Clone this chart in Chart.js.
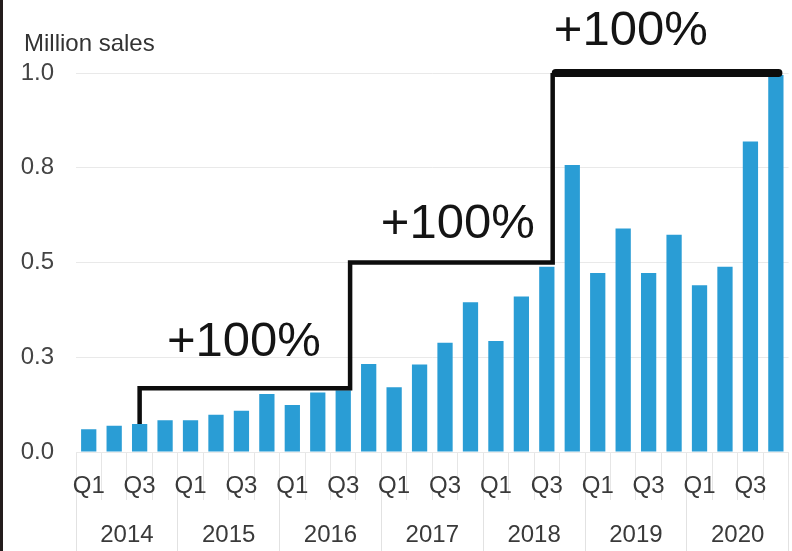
<!DOCTYPE html>
<html>
<head>
<meta charset="utf-8">
<script src="https://cdn.jsdelivr.net/npm/chart.js@4/dist/chart.umd.min.js"></script>
<style>
  html, body { margin: 0; padding: 0; background: #fff; }
  #wrap { width: 792px; height: 551px; position: relative; }
</style>
</head>
<body>
<div id="wrap"><canvas id="c" width="792" height="551"></canvas></div>
<script>
// Quarterly sales, in million units
const years = ['2014', '2015', '2016', '2017', '2018', '2019', '2020'];
const quarters = ['Q1', 'Q2', 'Q3', 'Q4'];
const quarterLabels = ['Q1', '', 'Q3', ''];
const sales = [
  0.060, 0.069, 0.074, 0.084,   // 2014
  0.084, 0.098, 0.109, 0.153,   // 2015
  0.124, 0.157, 0.163, 0.232,   // 2016
  0.171, 0.231, 0.288, 0.395,   // 2017
  0.293, 0.410, 0.489, 0.757,   // 2018
  0.472, 0.590, 0.472, 0.573,   // 2019
  0.440, 0.489, 0.819, 0.995    // 2020
];
const yTicks = [0, 0.25, 0.5, 0.75, 1.0];
const unitLabel = 'Million sales';
// Levels of the three doubling steps
const stepLevels = [0.168, 0.5, 1.0];
const stepTexts = ['+100%', '+100%', '+100%'];

const categories = [];
years.forEach(y => quarters.forEach(q => categories.push(y + ' ' + q)));

const FONT = '"Liberation Sans", Arial, Helvetica, sans-serif';

// Step line, "+100%" callouts and the unit caption, placed through the chart scales
const stepPlugin = {
  id: 'steps',
  beforeDraw(chart) {
    const ctx = chart.ctx;
    ctx.save();
    ctx.fillStyle = '#fff';
    ctx.fillRect(0, 0, chart.width, chart.height);
    ctx.restore();
  },
  afterDatasetsDraw(chart, args, opts) {
    const xs = chart.scales.x, ys = chart.scales.y, ctx = chart.ctx;
    const X = v => xs.getPixelForValue(v);
    const Y = v => ys.getPixelForValue(v);
    const [c0, c1, c2] = opts.corners;
    ctx.save();
    ctx.strokeStyle = '#0d0d0d';
    ctx.lineWidth = 4.5;
    ctx.lineJoin = 'miter';
    ctx.lineCap = 'butt';
    ctx.beginPath();
    ctx.moveTo(X(c0), Y(sales[c0]));
    ctx.lineTo(X(c0), Y(stepLevels[0]));
    ctx.lineTo(X(c1), Y(stepLevels[0]));
    ctx.lineTo(X(c1), Y(stepLevels[1]));
    ctx.lineTo(X(c2), Y(stepLevels[1]));
    ctx.lineTo(X(c2), Y(stepLevels[2]));
    ctx.stroke();
    // final level drawn heavier
    ctx.lineWidth = 8;
    ctx.lineCap = 'round';
    ctx.beginPath();
    ctx.moveTo(X(opts.topStart), Y(stepLevels[2]));
    ctx.lineTo(X(opts.topEnd), Y(stepLevels[2]));
    ctx.stroke();
    // callouts
    ctx.fillStyle = '#141414';
    ctx.font = '49px ' + FONT;
    ctx.textAlign = 'center';
    ctx.textBaseline = 'middle';
    opts.labelAt.forEach((p, i) => {
      ctx.fillText(stepTexts[i], X(p[0]), Y(p[1]));
    });
    ctx.restore();
  },
  afterDraw(chart, args, opts) {
    const ctx = chart.ctx;
    ctx.save();
    // unit caption above the value axis
    ctx.fillStyle = '#333';
    ctx.font = '24px ' + FONT;
    ctx.textAlign = 'left';
    ctx.textBaseline = 'middle';
    ctx.fillText(unitLabel, opts.captionX, chart.chartArea.top - opts.captionRise);
    // frame edge on the left
    ctx.fillStyle = '#231d1d';
    ctx.fillRect(0, 0, 3, chart.height);
    ctx.restore();
  }
};

new Chart(document.getElementById('c'), {
  type: 'bar',
  data: {
    labels: categories,
    datasets: [{
      data: sales,
      backgroundColor: '#2a9dd5',
      borderWidth: 0,
      barPercentage: 0.6,
      categoryPercentage: 1.0
    }]
  },
  options: {
    responsive: false,
    animation: false,
    layout: { padding: { left: 0, right: 3.4, top: 73, bottom: 0 } },
    plugins: {
      legend: { display: false },
      tooltip: { enabled: false },
      title: { display: false },
      steps: {
        corners: [2, 10.27, 18.23],
        topStart: 18.35,
        topEnd: 27.1,
        labelAt: [[6.1, 0.29], [14.5, 0.60], [21.3, 1.11]],
        captionX: 24,
        captionRise: 29
      }
    },
    scales: {
      x: {
        type: 'category',
        position: 'bottom',
        weight: 0,
        offset: true,
        border: { display: false },
        grid: {
          offset: true,
          drawOnChartArea: false,
          drawTicks: true,
          tickLength: 48,
          color: '#e6e6e6',
          lineWidth: 1
        },
        ticks: {
          autoSkip: false,
          maxRotation: 0,
          minRotation: 0,
          padding: -27.6,
          color: '#3a3a3a',
          font: { family: FONT, size: 24 },
          callback: (v, i) => quarterLabels[i % 4]
        },
        afterFit: s => { s.height = 48; }
      },
      x2: {
        type: 'category',
        position: 'bottom',
        weight: 1,
        labels: years,
        offset: true,
        border: { display: false },
        grid: {
          offset: true,
          drawOnChartArea: false,
          drawTicks: true,
          tickLength: 51,
          color: '#e2e2e2',
          lineWidth: 1
        },
        ticks: {
          autoSkip: false,
          maxRotation: 0,
          minRotation: 0,
          padding: -29.6,
          color: '#3a3a3a',
          font: { family: FONT, size: 24 }
        },
        afterFit: s => { s.height = 51; }
      },
      y: {
        min: 0,
        max: 1,
        border: { display: false },
        grid: { color: '#e9e9e9', lineWidth: 1, drawTicks: false },
        afterBuildTicks: s => { s.ticks = yTicks.map(v => ({ value: v })); },
        ticks: {
          padding: 22,
          color: '#444',
          font: { family: FONT, size: 24 },
          callback: v => Number(v).toFixed(1)
        },
        afterFit: s => { s.width = 76; }
      }
    }
  },
  plugins: [stepPlugin]
});
</script>
</body>
</html>
